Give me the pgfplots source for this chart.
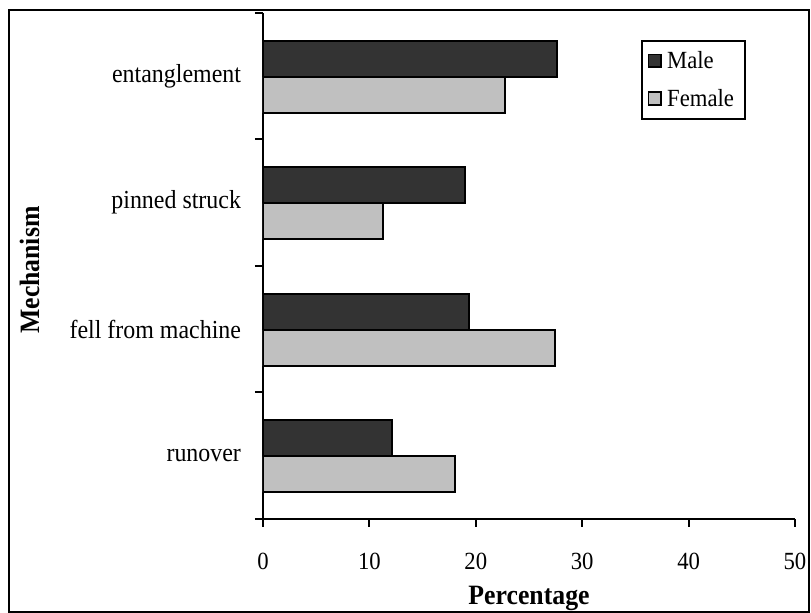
\documentclass[border=0pt]{standalone}
\usepackage{fontspec}
\setmainfont{Liberation Serif}[FakeStretch=0.92]
\usepackage{pgfplots}
\pgfplotsset{compat=1.18}
\definecolor{maleC}{HTML}{333333}
\definecolor{femC}{HTML}{C0C0C0}
\begin{document}
\begin{tikzpicture}[x=0.75pt,y=0.75pt]
\useasboundingbox (0,0) rectangle (811,613);
\draw[line width=1.5pt] (9,1) rectangle (809,603);
\begin{axis}[
  at={(197.25pt,70.5pt)}, anchor=south west,
  scale only axis, width=399pt, height=379.5pt,
  xmin=0, xmax=50, ymin=-0.5, ymax=3.5,
  axis x line*=bottom, axis y line*=left,
  axis line style={line width=1.5pt, -},
  xbar, bar width=27pt,
  xtick={0,10,...,50},
  ytick={0,1,2,3},
  yticklabels={runover, fell from machine, pinned struck, entanglement},
  minor ytick={-0.5,0.5,1.5,2.5,3.5},
  major y tick style={draw=none},
  minor y tick style={line width=1.5pt, black},
  major x tick style={line width=1.5pt, black},
  tick align=outside,
  major tick length=6pt, minor tick length=6pt,
  /pgf/number format/assume math mode=true,
  xticklabel style={font=\fontsize{18.5}{20}\selectfont, yshift=-16pt},
  yticklabel style={font=\fontsize{19.5}{21}\selectfont, xshift=-7pt},
  xlabel={\textbf{Percentage}},
  ylabel={\textbf{Mechanism}},
  xlabel style={font=\fontsize{21}{23}\selectfont, at={(axis description cs:0.5,-0.156)}, anchor=center},
  ylabel style={font=\fontsize{21}{23}\selectfont, at={(axis description cs:-0.438,0.492)}, anchor=center},
  legend style={at={(0.711,0.947)}, anchor=north west, draw=black, line width=1.5pt,
    font=\fontsize{18.5}{20}\selectfont, row sep=10pt, inner xsep=4pt, inner ysep=6pt,
    nodes={inner xsep=4pt}},
  legend cell align=left,
]
\addplot[fill=maleC, draw=black, line width=1.5pt, bar shift=13pt,
  legend image code/.code={\draw[fill=maleC, draw=black, line width=1.2pt] (0pt,-4.5pt) rectangle (9.5pt,5pt);}]
  coordinates {(12.1,0) (19.4,1) (19.0,2) (27.6,3)};
\addlegendentry{Male}
\addplot[fill=femC, draw=black, line width=1.5pt, bar shift=-14pt,
  legend image code/.code={\draw[fill=femC, draw=black, line width=1.2pt] (0pt,-4.5pt) rectangle (9.5pt,5pt);}]
  coordinates {(18.0,0) (27.4,1) (11.25,2) (22.7,3)};
\addlegendentry{Female}
\end{axis}
\end{tikzpicture}
\end{document}
